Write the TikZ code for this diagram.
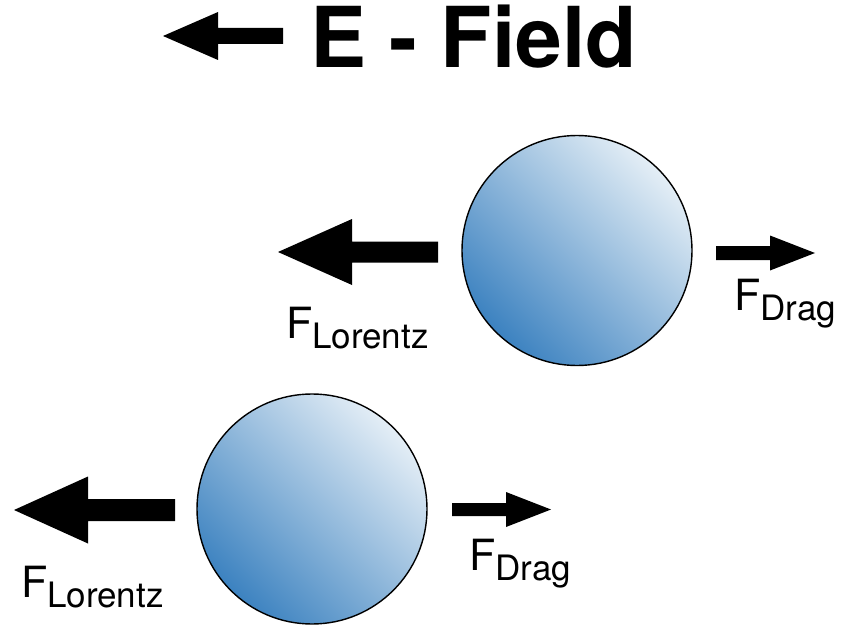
\documentclass[tikz,border=0pt]{standalone}
\usepackage{fontspec}
\setmainfont{TeX Gyre Heros}
\definecolor{partdark}{RGB}{60,130,192}
\definecolor{partlight}{RGB}{228,238,246}
\newcommand{\forcelabel}[1]{{\fontsize{43}{43}\selectfont F}{\fontsize{35}{35}\selectfont\raisebox{-10pt}{#1}}}
\begin{document}
\begin{tikzpicture}[x=1pt,y=-1pt,
  particle/.style={circle, draw=black, line width=1.4pt, minimum size=230pt,
    inner sep=0pt, top color=partdark, bottom color=partlight, shading angle=135},
  blockarrow/.style={fill=black},
  forcetext/.style={anchor=base west, inner sep=0pt, outer sep=0pt},
  titletext/.style={anchor=base west, inner sep=0pt, outer sep=0pt,
    font=\fontsize{84}{84}\selectfont\bfseries}]
\useasboundingbox (0,0) rectangle (841,626);

% title with field direction arrow
\fill[blockarrow] (163,36) -- (218,12) -- (218,28) -- (283,28) -- (283,44)
  -- (218,44) -- (218,60) -- cycle;
\node[titletext] (title) at (310,68) {E - Field};

% upper particle and its forces
\node[particle] (p1) at (577,250.5) {};
\fill[blockarrow] (278,252) -- (352,219) -- (352,241.5) -- (438,241.5)
  -- (438,262.5) -- (352,262.5) -- (352,285) -- cycle;
\fill[blockarrow] (716,246) -- (770,246) -- (770,235.5) -- (815,253)
  -- (770,270.5) -- (770,260) -- (716,260) -- cycle;
\node[forcetext] (l1) at (286,338) {\forcelabel{Lorentz}};
\node[forcetext] (d1) at (734,310) {\forcelabel{Drag}};

% lower particle and its forces
\node[particle] (p2) at (312,509) {};
\fill[blockarrow] (14,510) -- (88,476.5) -- (88,499) -- (175,499)
  -- (175,521) -- (88,521) -- (88,543.5) -- cycle;
\fill[blockarrow] (452,503) -- (506,503) -- (506,492) -- (551,509.5)
  -- (506,527) -- (506,516) -- (452,516) -- cycle;
\node[forcetext] (l2) at (21,597) {\forcelabel{Lorentz}};
\node[forcetext] (d2) at (469,570) {\forcelabel{Drag}};
\end{tikzpicture}
\end{document}
